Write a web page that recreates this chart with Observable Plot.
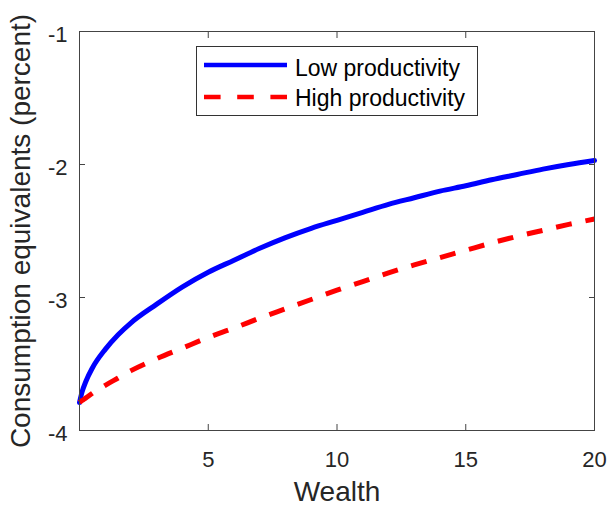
<!DOCTYPE html>
<html><head><meta charset="utf-8">
<script src="https://cdn.jsdelivr.net/npm/d3@7"></script>
<script src="https://cdn.jsdelivr.net/npm/@observablehq/plot@0.6"></script>
<style>
body{margin:0;background:#fff;font-family:"Liberation Sans",Arial,sans-serif;}
#wrap{position:relative;width:611px;height:506px;}
#legend{position:absolute;left:196px;top:46px;}
</style></head>
<body>
<div id="wrap"></div>
<script>
const wealth   = [0, 0.1, 0.25, 0.5, 1, 1.5, 2, 3, 4, 5, 6, 7, 8, 9, 10, 11, 12, 13, 14, 15, 16, 17, 18, 19, 20];
const lowProd  = [-3.79, -3.71, -3.63, -3.53, -3.39, -3.28, -3.19, -3.05, -2.92, -2.81, -2.72, -2.63, -2.55, -2.48, -2.42, -2.36, -2.30, -2.25, -2.20, -2.16, -2.115, -2.075, -2.035, -2.00, -1.97];
const highProd = [-3.79, -3.775, -3.755, -3.72, -3.66, -3.605, -3.55, -3.46, -3.38, -3.30, -3.23, -3.155, -3.085, -3.015, -2.945, -2.88, -2.815, -2.755, -2.70, -2.645, -2.59, -2.54, -2.495, -2.45, -2.41];
const seriesNames = ["Low productivity", "High productivity"];
const seriesColors = ["#0000ff", "#ff0000"];
const xTicks = [5, 10, 15, 20];
const yTicks = [-4, -3, -2, -1];
const xLabel = "Wealth";
const yLabel = "Consumption equivalents (percent)";

const rows = wealth.map((w, i) => ({w, low: lowProd[i], high: highProd[i]}));
const axisColor = "#444";
const blank = () => "";

const chart = Plot.plot({
  width: 611, height: 506,
  marginLeft: 79, marginRight: 17, marginTop: 31, marginBottom: 76,
  x: {domain: [0, 20]},
  y: {domain: [-4, -1]},
  style: {fontFamily: "'Liberation Sans', Arial, sans-serif", background: "white", color: "#262626", overflow: "visible"},
  marks: [
    Plot.line(rows, {x: "w", y: "low", stroke: seriesColors[0], strokeWidth: 5, curve: "monotone-x"}),
    Plot.line(rows, {x: "w", y: "high", stroke: seriesColors[1], strokeWidth: 5, strokeDasharray: "16,14", strokeLinecap: "butt", curve: "monotone-x"}),
    Plot.frame({stroke: axisColor, strokeWidth: 1}),
    Plot.axisX(xTicks, {anchor: "bottom", tickSize: 6, dy: -6, tickFormat: blank, label: null, stroke: axisColor}),
    Plot.axisX(xTicks, {anchor: "top", tickSize: 6, dy: 6, tickFormat: blank, label: null, stroke: axisColor}),
    Plot.axisY(yTicks, {anchor: "left", tickSize: 6, dx: 6, tickFormat: blank, label: null, stroke: axisColor}),
    Plot.axisY(yTicks, {anchor: "right", tickSize: 6, dx: -6, tickFormat: blank, label: null, stroke: axisColor}),
    Plot.axisX(xTicks, {anchor: "bottom", tickSize: 0, tickPadding: 21, fontSize: 22, label: null, tickFormat: d => String(d)}),
    Plot.axisY(yTicks, {anchor: "left", tickSize: 0, tickPadding: 12, fontSize: 22, dy: 3, label: null, tickFormat: d => String(d)}),
    Plot.text([xLabel], {frameAnchor: "bottom", textAnchor: "middle", dy: 62, lineAnchor: "middle", fontSize: 28, fill: "#262626"}),
    Plot.text([yLabel], {frameAnchor: "left", textAnchor: "middle", rotate: -90, dx: -58, lineAnchor: "middle", fontSize: 28, fill: "#262626"})
  ]
});
const wrap = document.getElementById("wrap");
wrap.appendChild(chart);

// Legend
const ns = "http://www.w3.org/2000/svg";
const leg = document.createElementNS(ns, "svg");
leg.setAttribute("id", "legend");
leg.setAttribute("width", 283); leg.setAttribute("height", 71);
const rect = document.createElementNS(ns, "rect");
rect.setAttribute("x", 0.5); rect.setAttribute("y", 0.5); rect.setAttribute("width", 281); rect.setAttribute("height", 69);
rect.setAttribute("fill", "white"); rect.setAttribute("stroke", "#333");
leg.appendChild(rect);
const rowY = [19, 51], textY = [30, 60];
seriesNames.forEach((name, i) => {
  const ln = document.createElementNS(ns, "line");
  ln.setAttribute("x1", 8); ln.setAttribute("x2", 91);
  ln.setAttribute("y1", rowY[i]); ln.setAttribute("y2", rowY[i]);
  ln.setAttribute("stroke", seriesColors[i]); ln.setAttribute("stroke-width", 4.5);
  if (i === 1) ln.setAttribute("stroke-dasharray", "16.6,16.6");
  leg.appendChild(ln);
  const t = document.createElementNS(ns, "text");
  t.setAttribute("x", 99); t.setAttribute("y", textY[i]);
  t.setAttribute("font-size", 23); t.setAttribute("fill", "#000");
  t.setAttribute("font-family", "'Liberation Sans', Arial, sans-serif");
  t.textContent = name;
  leg.appendChild(t);
});
wrap.appendChild(leg);
</script>
</body></html>
